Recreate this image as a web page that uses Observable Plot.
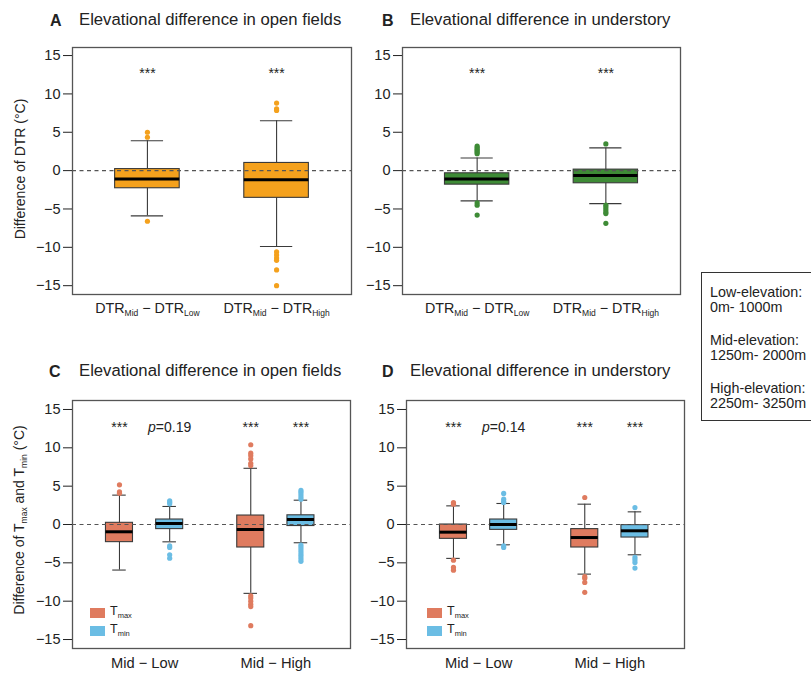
<!DOCTYPE html>
<html><head><meta charset="utf-8">
<script src="https://cdn.jsdelivr.net/npm/d3@7"></script>
<script src="https://cdn.jsdelivr.net/npm/@observablehq/plot@0.6"></script>
<style>
body{margin:0;background:#fff;}
#root{position:relative;width:811px;height:675px;font-family:"Liberation Sans",Arial,sans-serif;color:#222;overflow:hidden;background:#fff;}
.abs{position:absolute;white-space:nowrap;line-height:1;}
.letter{font-size:16px;font-weight:bold;}
.ttl{font-size:16.7px;}
.ytitle{font-size:14px;transform:translate(-50%,-50%) rotate(-90deg);}
.ytitle sub{font-size:8.5px;vertical-align:-3px;}
.key{font-size:14.3px;}
.sw{position:absolute;width:15px;height:10px;}
.lg{position:absolute;font-size:12.5px;line-height:1;white-space:nowrap;}
.lg sub{font-size:7.5px;vertical-align:-3px;}
.plot{position:absolute;}
</style>
</head><body>
<div id="root"></div>
<script>
// ---------- data ----------
const yTicks = [-15, -10, -5, 0, 5, 10, 15];
const dtrGroups = ["DTR{Mid} − DTR{Low}", "DTR{Mid} − DTR{High}"];
const tGroups = ["Mid − Low", "Mid − High"];
const tSeries = ["Tmax", "Tmin"];

// Panel A: DTR, open fields
const aLow  = [-5.9, -9.9];
const aQ1   = [-2.3, -3.55];
const aMed  = [-1.1, -1.2];
const aQ3   = [0.2, 1.0];
const aHigh = [3.9, 6.5];
const aOut  = [[5.0, 4.35, -6.6], [8.8, 8.05, 7.85, -10.6, -11.0, -11.4, -11.7, -12.95, -15.0]];
const aSig  = ["***", "***"];

// Panel B: DTR, understory
const bLow  = [-3.95, -4.3];
const bQ1   = [-1.83, -1.65];
const bMed  = [-1.08, -0.65];
const bQ3   = [-0.35, 0.13];
const bHigh = [1.65, 2.96];
const bOut  = [[3.2, 3.0, 2.8, 2.6, 2.4, 2.2, -4.2, -4.5, -5.8], [3.48, -4.5, -4.8, -5.1, -5.4, -5.6, -6.87]];
const bSig  = ["***", "***"];

// Panel C: Tmax / Tmin, open fields (order: Mid-Low Tmax, Mid-Low Tmin, Mid-High Tmax, Mid-High Tmin)
const cLow  = [-5.94, -2.26, -8.98, -2.38];
const cQ1   = [-2.3, -0.6, -3.0, -0.2];
const cMed  = [-0.95, 0.13, -0.65, 0.65];
const cQ3   = [0.22, 0.65, 1.17, 1.2];
const cHigh = [3.83, 2.35, 7.33, 3.17];
const cOut  = [[5.17, 4.26, 4.08], [3.1, 2.9, 2.7, -2.8, -3.0, -3.95, -4.4],
               [10.4, 9.3, 9.0, 8.55, 7.98, 7.68, -9.3, -9.6, -10.0, -10.4, -10.7, -13.2],
               [4.45, 4.2, 3.9, 3.6, 3.3, -2.7, -3.0, -3.3, -3.6, -3.9, -4.2, -4.5, -4.8]];
const cSig  = ["***", "p=0.19", "***", "***"];

// Panel D: Tmax / Tmin, understory
const dLow  = [-4.42, -2.65, -6.47, -3.95];
const dQ1   = [-1.87, -0.7, -3.0, -1.7];
const dMed  = [-1.0, 0.0, -1.7, -0.82];
const dQ3   = [0.0, 0.65, -0.6, -0.08];
const dHigh = [2.43, 2.74, 2.65, 1.65];
const dOut  = [[2.87, 2.65, -4.65, -5.6, -5.95], [4.05, 3.3, 3.0, 2.87, -2.8, -3.0],
               [3.52, -6.8, -7.0, -7.55, -8.85], [2.2, -4.3, -4.6, -4.95, -5.68]];
const dSig  = ["***", "p=0.14", "***", "***"];

const titles = [
  ["A", "Elevational difference in open fields"],
  ["B", "Elevational difference in understory"],
  ["C", "Elevational difference in open fields"],
  ["D", "Elevational difference in understory"]
];
const keyLines = ["Low-elevation:", "0m- 1000m", "Mid-elevation:", "1250m- 2000m", "High-elevation:", "2250m- 3250m"];

// ---------- style ----------
const FONT = '"Liberation Sans", Arial, sans-serif';
const colOpen = "#F4A11D", colUnder = "#3E8B36", colTmax = "#DF7B5F", colTmin = "#6BBDE4";
const seriesColor = {Tmax: colTmax, Tmin: colTmin};
const EDGE = "#3a3a3a";

const root = document.getElementById("root");
function addDiv(cls, html, css) {
  const d = document.createElement("div");
  d.className = cls; d.innerHTML = html;
  Object.assign(d.style, css);
  root.appendChild(d);
  return d;
}

function richText(svg, subSize) {
  d3.select(svg).selectAll("text").each(function () {
    const t = this.textContent;
    if (t.includes("{")) {
      const parts = t.split(/(\{[^}]*\})/).filter(s => s);
      this.textContent = "";
      let shifted = false;
      for (const p of parts) {
        const ts = document.createElementNS("http://www.w3.org/2000/svg", "tspan");
        if (p.startsWith("{")) {
          ts.textContent = p.slice(1, -1);
          ts.setAttribute("font-size", subSize);
          ts.setAttribute("dy", "3.5");
          shifted = true;
        } else {
          ts.textContent = p;
          if (shifted) { ts.setAttribute("dy", "-3.5"); shifted = false; }
        }
        this.appendChild(ts);
      }
    } else if (/^p=/.test(t)) {
      this.textContent = "";
      const a = document.createElementNS("http://www.w3.org/2000/svg", "tspan");
      a.setAttribute("font-style", "italic"); a.textContent = "p";
      const b = document.createElementNS("http://www.w3.org/2000/svg", "tspan");
      b.textContent = t.slice(1);
      this.appendChild(a); this.appendChild(b);
    }
  });
}

function panel({left, top, width, height, margin, ydom, boxes, outs, sig, tickX, tickLabels, xFont, xPad}) {
  const x1 = d => d.x - d.w / 2, x2 = d => d.x + d.w / 2;
  const c1 = d => d.x - d.w / 4, c2 = d => d.x + d.w / 4;
  const svg = Plot.plot({
    width, height,
    marginLeft: margin[0], marginRight: margin[1], marginTop: margin[2], marginBottom: margin[3],
    x: {domain: [0.42, 2.58]},
    y: {domain: ydom},
    color: {type: "identity"},
    style: {background: "transparent", overflow: "visible", maxWidth: "none", fontFamily: FONT, fontSize: "14px", color: "#222"},
    marks: [
      Plot.ruleX(boxes, {x: "x", y1: "lo", y2: "hi", stroke: EDGE, strokeWidth: 1.1}),
      Plot.ruleY(boxes, {y: "lo", x1: c1, x2: c2, stroke: EDGE, strokeWidth: 1.1}),
      Plot.ruleY(boxes, {y: "hi", x1: c1, x2: c2, stroke: EDGE, strokeWidth: 1.1}),
      Plot.rect(boxes, {x1, x2, y1: "q1", y2: "q3", fill: "fill", stroke: EDGE, strokeWidth: 1.1}),
      Plot.ruleY([0], {stroke: "#555", strokeWidth: 1.2, strokeDasharray: "4,3.5"}),
      Plot.ruleY(boxes, {y: "med", x1, x2, stroke: "#000", strokeWidth: 3}),
      Plot.dot(outs, {x: "x", y: "y", r: 2.6, fill: "fill", stroke: "none"}),
      Plot.text(sig, {x: "x", y: () => 13, text: "text", fontSize: 14, dy: 3, fill: "#222"}),
      Plot.frame({stroke: "#555", strokeWidth: 1.3}),
      Plot.axisY({ticks: yTicks, tickSize: 9, tickPadding: 3, fontSize: 14.5, label: null}),
      Plot.axisX({ticks: tickX, tickFormat: (d, i) => tickLabels[i], tickSize: 0, tickPadding: xPad, fontSize: xFont, label: null})
    ]
  });
  richText(svg, 8.5);
  const holder = document.createElement("div");
  holder.className = "plot";
  holder.style.left = left + "px"; holder.style.top = top + "px";
  holder.appendChild(svg);
  root.appendChild(holder);
}

function dtrBoxes(lo, q1, med, q3, hi, out, fill) {
  const pos = [1, 2];
  const boxes = pos.map((x, i) => ({x, w: 0.5, lo: lo[i], q1: q1[i], med: med[i], q3: q3[i], hi: hi[i], fill}));
  const outs = out.flatMap((arr, i) => arr.map(y => ({x: pos[i], y, fill})));
  return {boxes, outs};
}
function tBoxes(lo, q1, med, q3, hi, out) {
  const gx = [0.98, 2.0], off = [-0.195, 0.195];
  const keys = tGroups.flatMap((g, gi) => tSeries.map((s, si) => ({x: gx[gi] + off[si], s})));
  const boxes = keys.map((k, i) => ({x: k.x, w: 0.21, lo: lo[i], q1: q1[i], med: med[i], q3: q3[i], hi: hi[i], fill: seriesColor[k.s]}));
  const outs = out.flatMap((arr, i) => arr.map(y => ({x: keys[i].x, y, fill: seriesColor[keys[i].s]})));
  return {boxes, outs, keys};
}

// Panel A
{
  const {boxes, outs} = dtrBoxes(aLow, aQ1, aMed, aQ3, aHigh, aOut, colOpen);
  panel({left: 0, top: 0, width: 370, height: 330, margin: [72, 19, 47, 36], ydom: [-16.15, 16.05],
    boxes, outs, sig: aSig.map((text, i) => ({x: boxes[i].x, text})), tickX: [1, 2], tickLabels: dtrGroups, xFont: 14.3, xPad: 8});
}
// Panel B
{
  const {boxes, outs} = dtrBoxes(bLow, bQ1, bMed, bQ3, bHigh, bOut, colUnder);
  panel({left: 370, top: 0, width: 330, height: 330, margin: [32, 20, 47, 36], ydom: [-16.15, 16.05],
    boxes, outs, sig: bSig.map((text, i) => ({x: boxes[i].x, text})), tickX: [1, 2], tickLabels: dtrGroups, xFont: 14.3, xPad: 8});
}
// Panel C
{
  const {boxes, outs} = tBoxes(cLow, cQ1, cMed, cQ3, cHigh, cOut);
  panel({left: 0, top: 330, width: 370, height: 345, margin: [72, 20, 70, 27], ydom: [-16.17, 16.17],
    boxes, outs, sig: cSig.map((text, i) => ({x: boxes[i].x, text})), tickX: [0.98, 2.0], tickLabels: tGroups, xFont: 14.7, xPad: 9});
}
// Panel D
{
  const {boxes, outs} = tBoxes(dLow, dQ1, dMed, dQ3, dHigh, dOut);
  panel({left: 370, top: 330, width: 330, height: 345, margin: [36, 16, 70, 27], ydom: [-16.17, 16.17],
    boxes, outs, sig: dSig.map((text, i) => ({x: boxes[i].x, text})), tickX: [0.98, 2.0], tickLabels: tGroups, xFont: 14.7, xPad: 9});
}

// Titles
const titlePos = [[50, 79, 12.5], [382, 410, 12.5], [49, 79, 363.5], [382, 410, 363.5]];
titles.forEach(([l, t], i) => {
  const [lx, tx, ty] = titlePos[i];
  addDiv("abs letter", l, {left: lx + "px", top: ty + "px"});
  addDiv("abs ttl", t, {left: tx + "px", top: (ty - 0.4) + "px"});
});

// Y titles
addDiv("abs ytitle", "Difference of DTR (°C)", {left: "20px", top: "169px"});
addDiv("abs ytitle", "Difference of T<sub>max</sub> and T<sub>min</sub> (°C)", {left: "20px", top: "520px"});

// In-panel legends (C, D)
[[90, 608], [427, 608]].forEach(([lx, ly]) => {
  tSeries.forEach((s, i) => {
    const y = ly + i * 18;
    addDiv("sw", "", {left: lx + "px", top: y + "px", background: seriesColor[s]});
    addDiv("lg", "T<sub>" + s.slice(1) + "</sub>", {left: (lx + 20) + "px", top: (y - 3) + "px"});
  });
});

// Elevation key box
addDiv("abs", "", {left: "701px", top: "272px", width: "130px", height: "149px", border: "1px solid #333", boxSizing: "border-box"});
const keyBase = [297, 312, 345, 360, 393, 408];
keyLines.forEach((t, i) => addDiv("abs key", t, {left: "710px", top: (keyBase[i] - 12.1) + "px"}));
</script>
</body></html>
